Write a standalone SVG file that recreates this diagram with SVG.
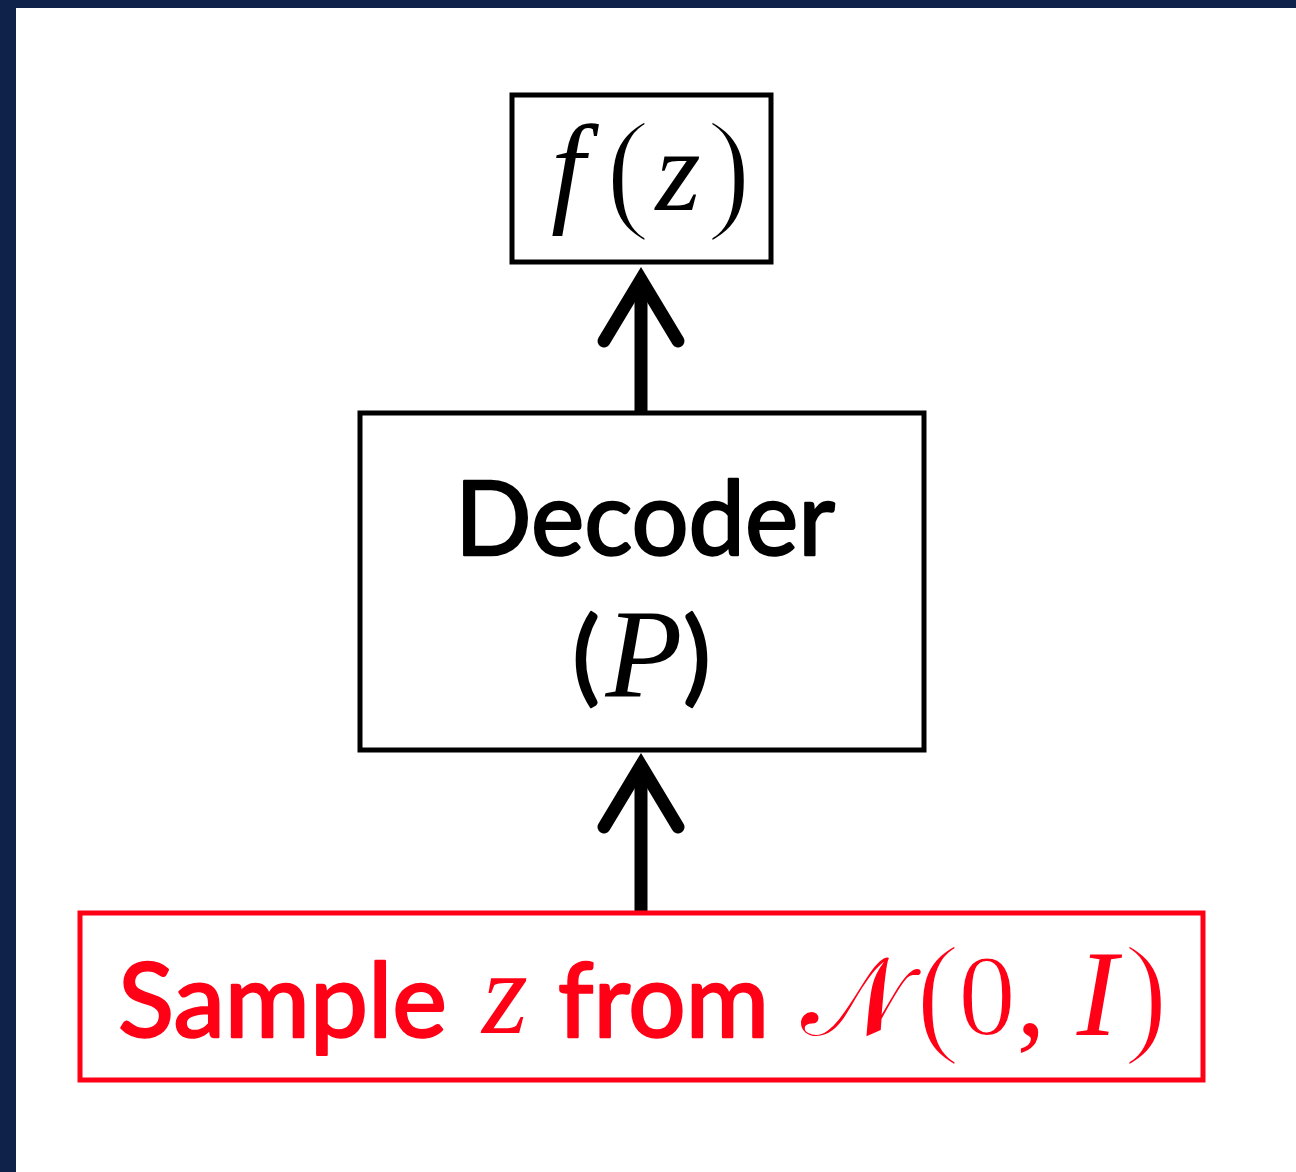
<svg xmlns="http://www.w3.org/2000/svg" width="1296" height="1172" viewBox="0 0 1296 1172">
  <style>
    .box { fill: #ffffff; stroke: #000000; stroke-width: 5; }
    .box.red { stroke: #ff0016; }
    .sans { font-family: Lato, "Open Sans", "Liberation Sans", sans-serif; font-size: 103px; stroke-width: 2.4; stroke-linejoin: round; }
    .math { font-family: "Liberation Serif", "DejaVu Serif", serif; font-style: italic; }
    .rm { font-family: "Liberation Serif", "DejaVu Serif", serif; }
    /* hairline glyphs: a white rim slims the serif parentheses and digits */
    .thin { stroke: #ffffff; stroke-width: 3.5; }
    .slim { stroke: #ffffff; stroke-width: 2; }
    .mid { text-anchor: middle; }
    .ink { fill: #000000; }
    .sans.ink { stroke: #000000; }
    .redink { fill: #ff0016; }
    .sans.redink { stroke: #ff0016; }
    .shaft { stroke: #000000; stroke-width: 13; fill: none; }
  </style>
  <defs>
    <!-- open chevron arrowhead, drawn pointing along +x -->
    <marker id="head" markerUnits="userSpaceOnUse" orient="auto" overflow="visible"
            markerWidth="1" markerHeight="1" refX="0" refY="0">
      <path d="M-61.5,-37 L0,0 L-61.5,37" fill="none" stroke="#000000" stroke-width="13"
            stroke-linecap="round" stroke-linejoin="miter" stroke-miterlimit="4"/>
    </marker>
  </defs>

  <!-- frame -->
  <rect x="0" y="0" width="1296" height="1172" fill="#0f2249"/>
  <rect x="16" y="8" width="1280" height="1164" fill="#ffffff"/>

  <!-- connectors -->
  <g id="connectors">
    <line class="shaft" x1="641" y1="412" x2="641" y2="279.5" marker-end="url(#head)"/>
    <line class="shaft" x1="641" y1="911" x2="641" y2="765.5" marker-end="url(#head)"/>
  </g>

  <!-- output node f(z) -->
  <g id="node-output">
    <rect class="box" x="512" y="95" width="259" height="167"/>
    <text class="math ink mid" x="568" y="210" font-size="122">f</text>
    <text class="rm ink mid thin" x="628" y="214" font-size="136">(</text>
    <text class="math ink mid" x="678" y="210" font-size="116">z</text>
    <text class="rm ink mid thin" x="729" y="214" font-size="136">)</text>
  </g>

  <!-- decoder node -->
  <g id="node-decoder">
    <rect class="box" x="360" y="413" width="564" height="337"/>
    <text class="sans ink" x="455" y="555" textLength="380" lengthAdjust="spacingAndGlyphs">Decoder</text>
    <text class="sans ink mid" x="586" y="692">(</text>
    <text class="math ink mid" x="644" y="697" font-size="126">P</text>
    <text class="sans ink mid" x="697" y="692">)</text>
  </g>

  <!-- latent sampling node -->
  <g id="node-sample">
    <rect class="box red" x="80" y="913" width="1123" height="167"/>
    <text class="sans redink" x="118" y="1037" textLength="329" lengthAdjust="spacingAndGlyphs">Sample</text>
    <text class="math redink mid" x="505" y="1033" font-size="118">z</text>
    <text class="sans redink" x="558" y="1037" textLength="211" lengthAdjust="spacingAndGlyphs">from</text>
    <text class="rm redink mid" x="853" y="1035" font-size="110" font-style="normal">𝒩</text>
    <text class="rm redink mid thin" x="938" y="1038" font-size="136">(</text>
    <text class="rm redink mid slim" x="987" y="1035" font-size="116">0</text>
    <text class="rm redink mid" x="1031" y="1035" font-size="116">,</text>
    <text class="math redink mid" x="1097" y="1035" font-size="122">I</text>
    <text class="rm redink mid thin" x="1146" y="1038" font-size="136">)</text>
  </g>
</svg>
